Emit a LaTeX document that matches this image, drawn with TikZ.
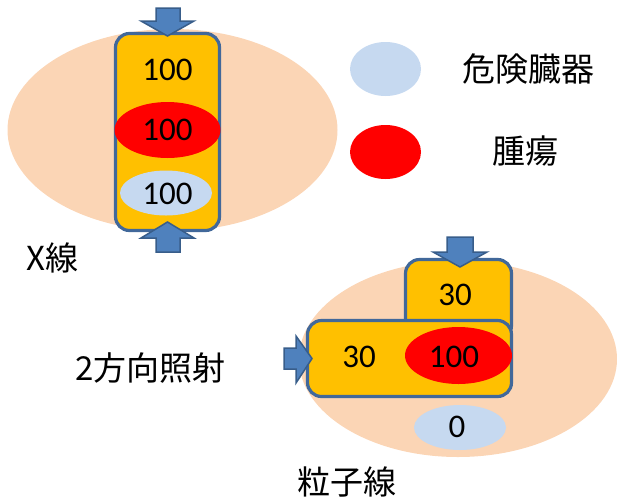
\documentclass[tikz,border=0pt]{standalone}
\usepackage{fontspec}
\setmainfont{Carlito}
\newfontfamily\jp{Noto Sans CJK JP}
\usetikzlibrary{shapes.geometric}
\definecolor{peachc}{HTML}{FBD5B5}
\definecolor{orangec}{HTML}{FFC000}
\definecolor{boxline}{HTML}{41689A}
\definecolor{lblue}{HTML}{C6D9F0}
\definecolor{arrowc}{HTML}{4F81BD}
\definecolor{arrowline}{HTML}{385D8A}
\begin{document}
\begin{tikzpicture}[x=1pt,y=-1pt,
  peach/.style={ellipse, fill=peachc, inner sep=0pt},
  dosebox/.style={draw=boxline, line width=3.2pt, fill=orangec, rounded corners=14pt, inner sep=0pt},
  organ/.style={ellipse, fill=lblue, inner sep=0pt},
  tumor/.style={ellipse, fill=red, inner sep=0pt},
  beam/.style={fill=arrowc, draw=arrowline, line width=1.5pt, line join=miter},
  num/.style={font=\fontsize{33}{40}\selectfont, inner sep=0pt},
  lab/.style={font=\jp\fontsize{33}{40}\selectfont, inner sep=0pt}]
\useasboundingbox (0,0) rectangle (617,501);
% ---- X-ray ----
\node[peach, minimum width=330pt, minimum height=202pt] (xbody) at (172.5,130) {};
\node[dosebox, minimum width=104pt, minimum height=197pt] (xbox) at (167.5,132) {};
\node[tumor, minimum width=106pt, minimum height=56pt] (xtumor) at (167.5,130) {};
\node[organ, minimum width=92pt, minimum height=45pt] (xorgan) at (166,193) {};
\node[num] (xt1) at (167.5,70) {100};
\node[num] (xt2) at (167.5,130) {100};
\node[num] (xt3) at (167.5,194) {100};
\draw[beam] (156,8) -- (180,8) -- (180,21) -- (194,21) -- (167.5,36) -- (141,21) -- (156,21) -- cycle;
\draw[beam] (167.5,222) -- (194,238) -- (180,238) -- (180,252) -- (156,252) -- (156,238) -- (141,238) -- cycle;
\node[lab, anchor=west] (xlabel) at (26,258) {X線};
% ---- legend ----
\node[organ, minimum width=71pt, minimum height=54pt] (legorgan) at (385.5,69) {};
\node[tumor, minimum width=71pt, minimum height=54pt] (legtumor) at (385.5,152) {};
\node[lab] (legorgantext) at (528,69) {危険臓器};
\node[lab] (legtumortext) at (525,151) {腫瘍};
% ---- particle ----
\node[peach, minimum width=318pt, minimum height=196pt] (pbody) at (458,359) {};
\node[dosebox, minimum width=106pt, minimum height=80pt] (pboxtop) at (458.5,299.5) {};
\node[dosebox, minimum width=204pt, minimum height=76pt] (pboxwide) at (409.5,358.5) {};
\node[tumor, minimum width=107pt, minimum height=57pt] (ptumor) at (458.5,355.5) {};
\node[organ, minimum width=92pt, minimum height=45pt] (porgan) at (460,427.5) {};
\node[num] (pt1) at (455,295) {30};
\node[num] (pt2) at (359,357) {30};
\node[num] (pt3) at (454,357) {100};
\node[num] (pt4) at (457,427) {0};
\draw[beam] (447,237) -- (473,237) -- (473,252) -- (487,252) -- (460,267) -- (433,252) -- (447,252) -- cycle;
\draw[beam] (284,348) -- (296,348) -- (296,336) -- (312,358.5) -- (296,383) -- (296,369) -- (284,369) -- cycle;
\node[lab] (dirlabel) at (150.5,368) {2方向照射};
\node[lab] (plabel) at (347,482) {粒子線};
\end{tikzpicture}
\end{document}
